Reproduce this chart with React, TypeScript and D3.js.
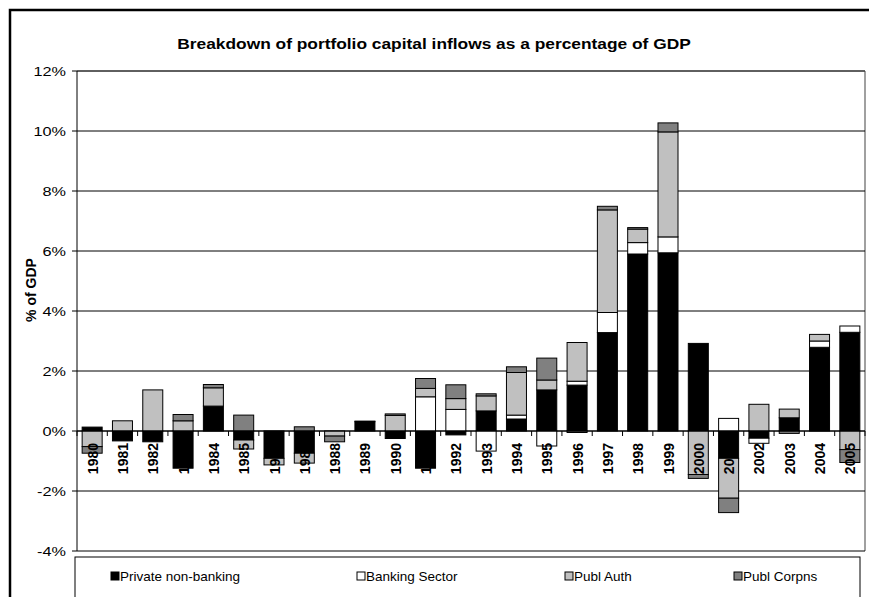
import React from "react";
import * as d3 from "d3";

const years = ["1980","1981","1982","1983","1984","1985","1986","1987","1988","1989","1990","1991","1992","1993","1994","1995","1996","1997","1998","1999","2000","2001","2002","2003","2004","2005"];
const privateNonBanking = [0.13,-0.33,-0.36,-1.24,0.83,-0.3,-0.91,-0.74,0,0.31,-0.25,-1.24,-0.13,0.67,0.4,1.37,1.53,3.28,5.9,5.94,2.92,-0.91,-0.24,0.44,2.79,3.29];
const bankingSector = [0,0,0,0,0,0,0,0,0,0,0,1.14,0.72,-0.67,0.13,-0.5,0.13,0.67,0.38,0.53,0,0.42,-0.17,0,0.21,0.21];
const publAuth = [-0.52,0.34,1.37,0.34,0.61,-0.3,-0.22,-0.33,-0.17,0,0.52,0.28,0.36,0.5,1.42,0.33,1.29,3.42,0.45,3.5,-1.45,-1.33,0.89,0.29,0.22,-0.62];
const publCorpns = [-0.22,0,0,0.21,0.11,0.53,0,0.14,-0.19,0.02,0.05,0.33,0.46,0.07,0.19,0.73,-0.05,0.12,0.05,0.3,-0.13,-0.48,0,-0.08,0,-0.43];
const seriesNames = ["Private non-banking","Banking Sector","Publ Auth","Publ Corpns"];
const seriesColors = ["#000000","#FFFFFF","#C0C0C0","#808080"];
const yTicks = [-4,-2,0,2,4,6,8,10,12];

export default function App() {
  const W = 869, H = 597;
  const left = 77, right = 865, top = 71, bottom = 551;
  const x = d3.scaleBand<string>().domain(years).range([left, right]).paddingInner(0.34).paddingOuter(0.17);
  const y = d3.scaleLinear().domain([-4, 12]).range([bottom, top]);
  const rows = years.map((yr, i) => ({ yr, s0: privateNonBanking[i], s1: bankingSector[i], s2: publAuth[i], s3: publCorpns[i] }));
  const stack = d3.stack<any>().keys(["s0","s1","s2","s3"]).offset(d3.stackOffsetDiverging);
  const stacked = stack(rows);
  const step = x.step();
  const font = "Arial, 'Liberation Sans', sans-serif";
  const SX = 1.24;
  return (
    <svg width={W} height={H} style={{ position: "absolute", left: 0, top: 0, background: "#fff" }} fontFamily={font}>
      <rect x={10} y={10} width={W + 10} height={H + 10} fill="#fff" stroke="#000" strokeWidth={2.5} />
      <text transform={`translate(434,49) scale(${SX},1)`} textAnchor="middle" fontWeight="bold" fontSize={14}>Breakdown of portfolio capital inflows as a percentage of GDP</text>
      {/* plot border */}
      <line x1={left} x2={right} y1={top} y2={top} stroke="#808080" strokeWidth={1} />
      <line x1={right} x2={right} y1={top} y2={bottom} stroke="#A0A0A0" strokeWidth={2} />
      {yTicks.map(t => (
        <g key={t}>
          <line x1={left} x2={right} y1={y(t)} y2={y(t)} stroke="#000" strokeWidth={1} />
          <line x1={left - 5} x2={left} y1={y(t)} y2={y(t)} stroke="#000" strokeWidth={1} />
          <text transform={`translate(${left - 11},${y(t) + 4.5}) scale(1.25,1)`} textAnchor="end" fontSize={13}>{t}%</text>
        </g>
      ))}
      <line x1={left} x2={left} y1={top} y2={bottom} stroke="#000" strokeWidth={1} />
      <text transform={`translate(36,290) rotate(-90)`} textAnchor="middle" fontWeight="bold" fontSize={14}>% of GDP</text>
      {stacked.map((layer, si) => (
        <g key={si}>
          {layer.map((d: any, i: number) => {
            const a = y(d[0]), b = y(d[1]);
            const h = Math.abs(a - b);
            if (h < 0.01) return null;
            return <rect key={i} x={x(years[i])} y={Math.min(a, b)} width={x.bandwidth()} height={h} fill={seriesColors[si]} stroke="#000" strokeWidth={1} />;
          })}
        </g>
      ))}
      {/* x-axis at 0 */}
      <line x1={left} x2={right} y1={y(0)} y2={y(0)} stroke="#000" strokeWidth={1} />
      {d3.range(years.length + 1).map(i => (
        <line key={i} x1={left + i * step} x2={left + i * step} y1={y(0)} y2={y(0) + 5} stroke="#000" strokeWidth={1} />
      ))}
      {years.map(yr => (
        <text key={yr} transform={`translate(${(x(yr) as number) + x.bandwidth() / 2 + 5.5},${y(0) + 12}) rotate(-90)`} textAnchor="end" fontWeight="bold" fontSize={14}>{yr}</text>
      ))}
      {/* legend */}
      <rect x={75} y={557} width={785} height={60} fill="#fff" stroke="#000" strokeWidth={1} />
      {seriesNames.map((n, i) => {
        const lx = [111, 357, 565, 734][i];
        return (
          <g key={n}>
            <rect x={lx} y={572} width={8} height={8} fill={seriesColors[i]} stroke="#000" strokeWidth={1} />
            <text x={lx + 9} y={581} fontSize={13.5}>{n}</text>
          </g>
        );
      })}
    </svg>
  );
}
